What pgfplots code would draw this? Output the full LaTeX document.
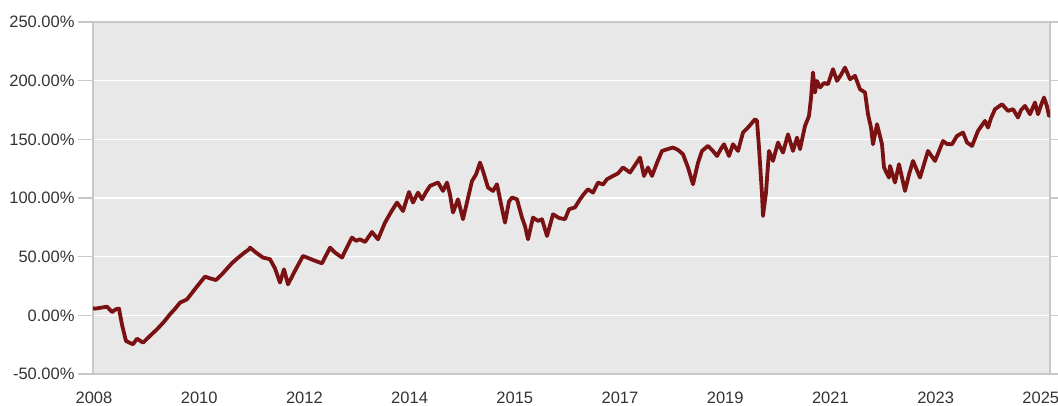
\documentclass[border=0pt]{standalone}
\usepackage{pgfplots}
\pgfplotsset{compat=1.18}
\usepackage{fontspec}
\setmainfont{Liberation Sans}
\definecolor{linered}{RGB}{122,17,19}
\definecolor{bggray}{RGB}{232,232,232}
\definecolor{bordergray}{RGB}{200,200,200}
\definecolor{labelgray}{RGB}{51,51,51}
\pgfplotstableread{
x y
93 6.0
95 5.7
101 6.5
107 7.4
112 2.8
116 5.2
119 5.7
122 -8
126 -21.9
133 -24.7
137 -19.9
143 -23.3
150 -17.5
157 -11.9
164 -5.5
170 0.9
175 5.5
180 10.8
187 13.6
196 23.5
205 33
210 31.5
216 30.1
222 35
227 39.8
232 44.5
237 48.3
243 52.5
249 56.3
250 57.7
256 53.5
263 49.2
270 47.8
275 40
280 27.9
284 39.2
288 26.4
295 38
303 50.6
312 47.5
322 44.3
330 57.7
335 53.5
342 49.2
347 58
352 66.3
356 63.5
360 64.8
365 62.5
372 71
378 64.8
385 79
391 88
397 96.1
403 88.9
409 105.1
413 96.1
418 104.6
422 98.9
426 105
430 110.3
438 113.2
443 106
447 113.2
450 103
453 87.6
458 98.9
463 81.9
468 100
472 114.5
476 120
480 130.2
483 123
488 108.9
493 106
497 111.7
501 95
505 79
509 97
512 100.4
517 98.9
522 83.3
525 76
528 64.8
533 83.3
538 80.5
542 81.9
547 67.6
553 86.1
559 83
565 81.9
569 90.4
575 92
580 98.9
584 103.5
588 107.4
593 104.6
598 113.2
603 111.5
607 116
613 118.8
618 121
623 126
630 121.7
635 128
640 134.5
644 118.8
648 126
652 118.8
657 130
662 140.1
667 141.5
673 143
678 141
683 137.3
688 126
693 111.7
698 130
702 140.1
708 144.4
713 140
717 135.8
721 142
724 145.8
729 135.8
733 145.8
738 140.1
743 155.8
749 161
755 167.1
757 165.7
759 143
762 103.2
763 84.7
766 104.6
769 140.1
773 131.6
778 147.3
783 138.7
788 154.3
793 140.1
797 151.5
800 141.6
805 161.4
809 170
811 185
813 207
815 189.9
817 199.8
820 194.2
824 198
828 197
833 209.8
837 199.8
841 205
845 211.2
850 201.2
855 204.1
860 192.7
865 189.9
868 171.4
871 160
873 145.8
877 162.9
882 145.8
884 126
889 117.4
890 127.3
895 113.2
899 128.8
905 106
909 120
913 131.6
920 117.4
928 140.1
935 131.6
939 140
943 148.6
947 146
952 145.8
957 152.9
963 155.8
967 147.3
972 144.4
978 157.2
985 165.7
988 160
991 168
995 175.7
1002 179.9
1008 174.2
1013 175.7
1018 168.6
1021 175
1025 178.5
1030 171.4
1035 181.4
1038 171.4
1041 179
1044 185.6
1047 178
1049 169.9
}\perf
\begin{document}
\begin{tikzpicture}
\begin{axis}[
  name=ax,
  scale only axis,
  width=957pt, height=352pt,
  xmin=93, xmax=1050,
  ymin=-50, ymax=250,
  axis background/.style={fill=bggray},
  axis line style={bordergray, line width=1.2pt},
  xtick={94,199.2,304.4,409.6,514.8,620,725.2,830.4,935.6,1040.8},
  xticklabels={2008,2010,2012,2014,2015,2017,2019,2021,2023,2025},
  ytick={-50,0,50,100,150,200,250},
  yticklabels={-50.00\%,0.00\%,50.00\%,100.00\%,150.00\%,200.00\%,250.00\%},
  ymajorgrids,
  major grid style={white, line width=1.6pt},
  tick label style={font=\fontsize{16.5}{18}\selectfont, text=labelgray},
  xtick style={draw=none},
  ytick style={bordergray, line width=1.2pt},
  major tick length=15pt,
  tick align=outside,
  xticklabel style={yshift=1pt},
  clip=true,
]
\addplot[linered, line width=3.8pt, line join=round, line cap=round] table[x=x,y=y] {\perf};
\end{axis}
\pgfresetboundingbox
\useasboundingbox ([shift={(-93pt,-32pt)}]ax.south west) rectangle ([shift={(8pt,22pt)}]ax.north east);
\end{tikzpicture}
\end{document}
